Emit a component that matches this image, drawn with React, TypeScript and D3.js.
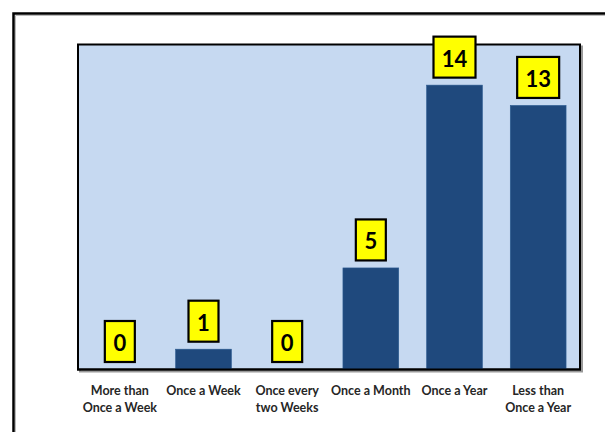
import React from "react";
import * as d3 from "d3";

const categories: string[] = [
  "More than Once a Week",
  "Once a Week",
  "Once every two Weeks",
  "Once a Month",
  "Once a Year",
  "Less than Once a Year",
];
const categoryLines: string[][] = [
  ["More than", "Once a Week"],
  ["Once a Week"],
  ["Once every", "two Weeks"],
  ["Once a Month"],
  ["Once a Year"],
  ["Less than", "Once a Year"],
];
const counts: number[] = [0, 1, 0, 5, 14, 13];
const yMax = 16;

const W = 605;
const H = 432;
const plot = { left: 78, right: 580, top: 44.5, bottom: 369.5 };

export default function App() {
  const x = d3
    .scaleBand<string>()
    .domain(categories)
    .range([plot.left, plot.right])
    .paddingInner(1 / 3)
    .paddingOuter(1 / 6);
  const y = d3.scaleLinear().domain([0, yMax]).range([plot.bottom, plot.top]);

  const font = "Lato, 'Open Sans', Arial, sans-serif";

  return (
    <svg
      width={W}
      height={H}
      style={{ position: "absolute", left: 0, top: 0, background: "#fff" }}
    >
      {/* outer frame */}
      <path d={`M13.5,${H + 5} V13.5 H${W + 5}`} fill="none" stroke="#000" strokeWidth={2.5} />
      <path d={`M15.5,${H + 5} V15.5 H${W + 5}`} fill="none" stroke="#bbb" strokeWidth={1} />

      {/* plot area with shadow */}
      <rect
        x={plot.left + 2}
        y={plot.top + 2}
        width={plot.right - plot.left}
        height={plot.bottom - plot.top}
        fill="none"
        stroke="#999"
        strokeWidth={2}
      />
      <rect
        x={plot.left}
        y={plot.top}
        width={plot.right - plot.left}
        height={plot.bottom - plot.top}
        fill="#c6d9f1"
        stroke="#000"
        strokeWidth={2}
      />

      {/* bars */}
      {categories.map((c, i) => (
        <rect
          key={c}
          x={x(c)!}
          y={y(counts[i])}
          width={x.bandwidth()}
          height={plot.bottom - y(counts[i])}
          fill="#1f497d"
          stroke="#2b5a91"
          strokeWidth={0.6}
        />
      ))}
      {/* redraw bottom edge over bars */}
      <line
        x1={plot.left - 1}
        x2={plot.right + 1}
        y1={plot.bottom}
        y2={plot.bottom}
        stroke="#000"
        strokeWidth={2}
      />

      {/* value labels */}
      {categories.map((c, i) => {
        const text = String(counts[i]);
        const bw = text.length > 1 ? 42 : 30;
        const bh = 41;
        const cx = x(c)! + x.bandwidth() / 2;
        const bottom = y(counts[i]) - 7.5;
        return (
          <g key={c}>
            <rect
              x={cx - bw / 2}
              y={bottom - bh}
              width={bw}
              height={bh}
              fill="#ffff00"
              stroke="#000"
              strokeWidth={2.2}
            />
            <text
              x={cx}
              y={bottom - bh / 2 + 1}
              textAnchor="middle"
              dominantBaseline="central"
              fontFamily={font}
              fontWeight="bold"
              fontSize={22}
              fill="#000"
            >
              {text}
            </text>
          </g>
        );
      })}

      {/* category labels */}
      {categories.map((c, i) => {
        const cx = x(c)! + x.bandwidth() / 2;
        return (
          <text
            key={c}
            x={cx}
            textAnchor="middle"
            fontFamily={font}
            fontWeight="bold"
            fontSize={12.5}
            fill="#262626"
          >
            {categoryLines[i].map((ln, j) => (
              <tspan key={j} x={cx} y={395 + j * 17}>
                {ln}
              </tspan>
            ))}
          </text>
        );
      })}
    </svg>
  );
}
